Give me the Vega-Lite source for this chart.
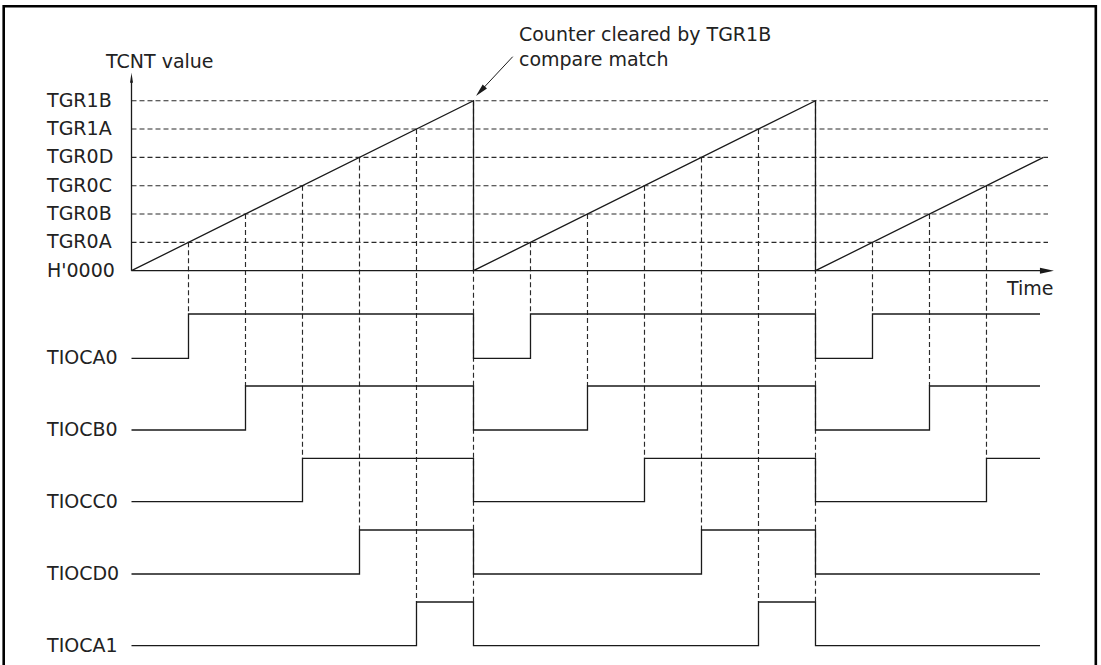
{
  "$schema": "https://vega.github.io/schema/vega-lite/v6.json",
  "width": 1101,
  "height": 665,
  "autosize": {"type": "none"},
  "padding": 0,
  "background": "white",
  "config": {"view": {"stroke": null}},
  "datasets": {
    "border": [{"t": -2.242, "t2": 16.918, "v": 9.336, "v2": -14.6}],
    "hdash": [
      {"t": 0, "t2": 16.079, "v": 1},
      {"t": 0, "t2": 16.079, "v": 2},
      {"t": 0, "t2": 16.079, "v": 3},
      {"t": 0, "t2": 16.079, "v": 4},
      {"t": 0, "t2": 16.079, "v": 5},
      {"t": 0, "t2": 16.079, "v": 6}
    ],
    "vdash": [
      {"t": 1, "v": 1, "v2": -1.528},
      {"t": 2, "v": 2, "v2": -4.07},
      {"t": 3, "v": 3, "v2": -6.622},
      {"t": 4, "v": 4, "v2": -9.153},
      {"t": 5, "v": 5, "v2": -11.694},
      {"t": 6, "v": 6, "v2": -11.694},
      {"t": 7, "v": 1, "v2": -1.528},
      {"t": 8, "v": 2, "v2": -4.07},
      {"t": 9, "v": 3, "v2": -6.622},
      {"t": 10, "v": 4, "v2": -9.153},
      {"t": 11, "v": 5, "v2": -11.694},
      {"t": 12, "v": 6, "v2": -11.694},
      {"t": 13, "v": 1, "v2": -1.528},
      {"t": 14, "v": 2, "v2": -4.07},
      {"t": 15, "v": 3, "v2": -6.622}
    ],
    "axes": [
      {"t": 0, "t2": 0, "v": 0, "v2": 6.7},
      {"t": 0, "t2": 16.03, "v": 0, "v2": 0}
    ],
    "leader": [{"t": 6.688, "v": 7.554, "t2": 6.121, "v2": 6.333}],
    "ramp": [
      {"i": 0, "t": 0, "v": 0},
      {"i": 1, "t": 6, "v": 6},
      {"i": 2, "t": 6, "v": 0},
      {"i": 3, "t": 12, "v": 6},
      {"i": 4, "t": 12, "v": 0},
      {"i": 5, "t": 16, "v": 4}
    ],
    "signals": [
      {"sig": "TIOCA0", "t": 0, "v": -3.092},
      {"sig": "TIOCA0", "t": 1, "v": -1.528},
      {"sig": "TIOCA0", "t": 6, "v": -3.092},
      {"sig": "TIOCA0", "t": 7, "v": -1.528},
      {"sig": "TIOCA0", "t": 12, "v": -3.092},
      {"sig": "TIOCA0", "t": 13, "v": -1.528},
      {"sig": "TIOCA0", "t": 15.939, "v": -1.528},
      {"sig": "TIOCB0", "t": 0, "v": -5.623},
      {"sig": "TIOCB0", "t": 2, "v": -4.07},
      {"sig": "TIOCB0", "t": 6, "v": -5.623},
      {"sig": "TIOCB0", "t": 8, "v": -4.07},
      {"sig": "TIOCB0", "t": 12, "v": -5.623},
      {"sig": "TIOCB0", "t": 14, "v": -4.07},
      {"sig": "TIOCB0", "t": 15.939, "v": -4.07},
      {"sig": "TIOCC0", "t": 0, "v": -8.154},
      {"sig": "TIOCC0", "t": 3, "v": -6.622},
      {"sig": "TIOCC0", "t": 6, "v": -8.154},
      {"sig": "TIOCC0", "t": 9, "v": -6.622},
      {"sig": "TIOCC0", "t": 12, "v": -8.154},
      {"sig": "TIOCC0", "t": 15, "v": -6.622},
      {"sig": "TIOCC0", "t": 15.939, "v": -6.622},
      {"sig": "TIOCD0", "t": 0, "v": -10.706},
      {"sig": "TIOCD0", "t": 4, "v": -9.153},
      {"sig": "TIOCD0", "t": 6, "v": -10.706},
      {"sig": "TIOCD0", "t": 10, "v": -9.153},
      {"sig": "TIOCD0", "t": 12, "v": -10.706},
      {"sig": "TIOCD0", "t": 15.939, "v": -10.706},
      {"sig": "TIOCA1", "t": 0, "v": -13.237},
      {"sig": "TIOCA1", "t": 5, "v": -11.694},
      {"sig": "TIOCA1", "t": 6, "v": -13.237},
      {"sig": "TIOCA1", "t": 11, "v": -11.694},
      {"sig": "TIOCA1", "t": 12, "v": -13.237},
      {"sig": "TIOCA1", "t": 15.939, "v": -13.237}
    ],
    "yarrow": [{"t": 0, "v": 6.813}],
    "tarrow": [{"t": 16.061, "v": 0}],
    "larrow": [{"t": 6.121, "v": 6.333}],
    "labels": [
      {"t": -1.482, "v": 0, "label": "H'0000"},
      {"t": -1.482, "v": 1, "label": "TGR0A"},
      {"t": -1.482, "v": 2, "label": "TGR0B"},
      {"t": -1.482, "v": 3, "label": "TGR0C"},
      {"t": -1.482, "v": 4, "label": "TGR0D"},
      {"t": -1.482, "v": 5, "label": "TGR1A"},
      {"t": -1.482, "v": 6, "label": "TGR1B"},
      {"t": -1.482, "v": -3.092, "label": "TIOCA0"},
      {"t": -1.482, "v": -5.623, "label": "TIOCB0"},
      {"t": -1.482, "v": -8.154, "label": "TIOCC0"},
      {"t": -1.482, "v": -10.706, "label": "TIOCD0"},
      {"t": -1.482, "v": -13.237, "label": "TIOCA1"},
      {"t": -0.447, "v": 7.367, "label": "TCNT value"},
      {"t": 15.36, "v": -0.646, "label": "Time"},
      {"t": 6.798, "v": 8.32, "label": "Counter cleared by TGR1B"},
      {"t": 6.798, "v": 7.438, "label": "compare match"}
    ]
  },
  "encoding": {
    "x": {"field": "t", "type": "quantitative", "axis": null,
          "scale": {"domain": [-2.307, 17.009], "nice": false, "zero": false}},
    "y": {"field": "v", "type": "quantitative", "axis": null,
          "scale": {"domain": [-13.918, 9.555], "nice": false, "zero": false}}
  },
  "layer": [
    {
      "data": {"name": "border"},
      "mark": {"type": "rect", "fillOpacity": 0, "stroke": "#000000", "strokeWidth": 2.6},
      "encoding": {"x2": {"field": "t2"}, "y2": {"field": "v2"}}
    },
    {
      "data": {"name": "hdash"},
      "mark": {"type": "rule", "stroke": "#2a2a2a", "strokeWidth": 1.15, "strokeDash": [5, 3]},
      "encoding": {"x2": {"field": "t2"}}
    },
    {
      "data": {"name": "vdash"},
      "mark": {"type": "rule", "stroke": "#2a2a2a", "strokeWidth": 1.15, "strokeDash": [5, 3]},
      "encoding": {"y2": {"field": "v2"}}
    },
    {
      "data": {"name": "axes"},
      "mark": {"type": "rule", "stroke": "#1a1a1a", "strokeWidth": 1.3},
      "encoding": {"x2": {"field": "t2"}, "y2": {"field": "v2"}}
    },
    {
      "data": {"name": "leader"},
      "mark": {"type": "rule", "stroke": "#1a1a1a", "strokeWidth": 1},
      "encoding": {"x2": {"field": "t2"}, "y2": {"field": "v2"}}
    },
    {
      "data": {"name": "ramp"},
      "mark": {"type": "line", "stroke": "#1a1a1a", "strokeWidth": 1.3},
      "encoding": {"order": {"field": "i", "type": "quantitative"}}
    },
    {
      "data": {"name": "signals"},
      "mark": {"type": "line", "interpolate": "step-after", "stroke": "#1a1a1a", "strokeWidth": 1.3},
      "encoding": {"detail": {"field": "sig", "type": "nominal"}}
    },
    {
      "data": {"name": "yarrow"},
      "mark": {"type": "point", "filled": true, "color": "#1a1a1a", "opacity": 1, "size": 100,
               "shape": "M0,-1L0.3,1L-0.3,1Z"},
      "encoding": {}
    },
    {
      "data": {"name": "tarrow"},
      "mark": {"type": "point", "filled": true, "color": "#1a1a1a", "opacity": 1, "size": 196,
               "shape": "M1,0L-1,-0.43L-1,0.43Z"},
      "encoding": {}
    },
    {
      "data": {"name": "larrow"},
      "mark": {"type": "point", "filled": true, "color": "#1a1a1a", "opacity": 1, "size": 169,
               "angle": 223, "shape": "M0,-1L0.45,1L-0.45,1Z"},
      "encoding": {}
    },
    {
      "data": {"name": "labels"},
      "mark": {"type": "text", "align": "left", "baseline": "middle", "font": "DejaVu Sans",
               "fontSize": 19, "color": "#222222"},
      "encoding": {"text": {"field": "label", "type": "nominal"}}
    }
  ]
}
